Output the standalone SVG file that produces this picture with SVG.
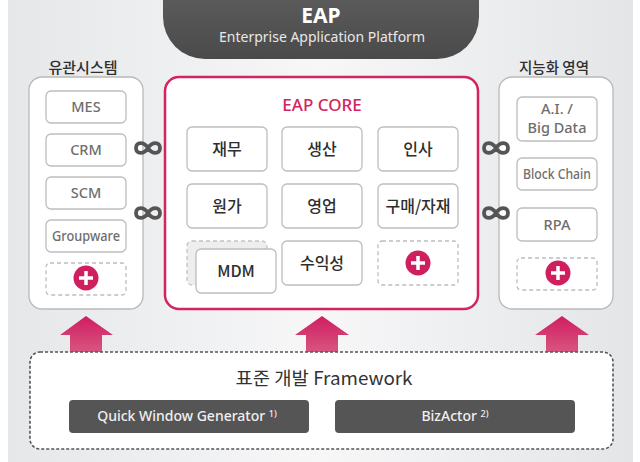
<svg xmlns="http://www.w3.org/2000/svg" width="640" height="462" viewBox="0 0 640 462">
<defs>
<linearGradient id="bg" x1="0" y1="0" x2="1" y2="0">
<stop offset="0" stop-color="#e5e7e9"/>
<stop offset="0.5" stop-color="#f7f7f8"/>
<stop offset="1" stop-color="#e3e5e7"/>
</linearGradient>
<linearGradient id="pill" x1="0" y1="0" x2="0" y2="1">
<stop offset="0" stop-color="#666666"/>
<stop offset="1" stop-color="#4a4a4a"/>
</linearGradient>
<linearGradient id="arr" x1="0" y1="0" x2="0" y2="1">
<stop offset="0" stop-color="#d01d62"/>
<stop offset="1" stop-color="#d8557f"/>
</linearGradient>
<style>
.panel{fill:#ffffff;stroke:#b9b9b9;stroke-width:1.3}
.core{fill:#ffffff;stroke:#d3245f;stroke-width:2.5}
.box{fill:#ffffff;stroke:#bdbdbd;stroke-width:1.3}
.dash{fill:#ffffff;stroke:#bdbdbd;stroke-width:1.3;stroke-dasharray:4 3}
.t{font-family:"Noto Sans","Noto Sans CJK KR",sans-serif;text-anchor:middle}
.side{font-size:14.5px;fill:#6e6e6e;font-weight:500}
.ctext{font-size:16px;fill:#2e2e2e;font-family:"Noto Sans CJK KR","Noto Sans",sans-serif;text-anchor:middle;font-weight:500}
.label{font-size:15px;fill:#2e2e2e;font-family:"Noto Sans CJK KR","Noto Sans",sans-serif;text-anchor:middle;font-weight:500}
.title{font-size:18px;fill:#333333;font-family:"Noto Sans CJK KR","Noto Sans",sans-serif;text-anchor:middle;font-weight:normal}
.inf{fill:none;stroke:#555555;stroke-width:3.8}
.plus{fill:#cf1f5e}
.pl{stroke:#ffffff;stroke-width:3.5;stroke-linecap:butt}
.dark{fill:#555555}
.wt{font-family:"Noto Sans",sans-serif;font-size:14px;fill:#f0f0f0;text-anchor:middle;font-weight:500}
</style>
</defs>
<rect x="0" y="0" width="640" height="462" fill="#ffffff"/>
<rect x="8" y="0" width="625" height="462" fill="url(#bg)"/>

<g id="eap-header">
<rect x="163" y="-45" width="316" height="104" rx="42" fill="url(#pill)"/>
<text class="t" x="321" y="23" font-size="21" font-weight="bold" fill="#ffffff">EAP</text>
<text class="t" x="322" y="42" font-size="14" fill="#e8e8e8" textLength="206" lengthAdjust="spacingAndGlyphs">Enterprise Application Platform</text>
</g>

<g id="related-systems">
<text class="label" x="83" y="73" textLength="69" lengthAdjust="spacingAndGlyphs">유관시스템</text>
<rect class="panel" x="29" y="77" width="114" height="232" rx="13"/>
<rect class="box" x="46" y="91" width="80" height="32" rx="5"/>
<text class="t side" x="86" y="112">MES</text>
<rect class="box" x="46" y="134" width="80" height="32" rx="5"/>
<text class="t side" x="86" y="155">CRM</text>
<rect class="box" x="46" y="177" width="80" height="32" rx="5"/>
<text class="t side" x="86" y="198">SCM</text>
<rect class="box" x="46" y="220" width="80" height="32" rx="5"/>
<text class="t side" x="86" y="241" font-size="13" textLength="68" lengthAdjust="spacingAndGlyphs">Groupware</text>
<rect class="dash" x="46" y="263" width="80" height="32" rx="4"/>
<circle class="plus" cx="86" cy="278" r="12.5"/>
<path class="pl" d="M79,278 H93 M86,271 V285"/>
</g>

<g id="eap-core">
<rect class="core" x="165" y="77" width="313" height="232" rx="14"/>
<text class="t" x="322" y="111" font-size="17" fill="#d3245f" font-weight="500">EAP CORE</text>
<rect class="box" x="187" y="127" width="80" height="44" rx="5"/>
<text class="ctext" x="227" y="155">재무</text>
<rect class="box" x="282" y="127" width="80" height="44" rx="5"/>
<text class="ctext" x="322" y="155">생산</text>
<rect class="box" x="378" y="127" width="80" height="44" rx="5"/>
<text class="ctext" x="418" y="155">인사</text>
<rect class="box" x="187" y="184" width="80" height="44" rx="5"/>
<text class="ctext" x="227" y="212">원가</text>
<rect class="box" x="282" y="184" width="80" height="44" rx="5"/>
<text class="ctext" x="322" y="212">영업</text>
<rect class="box" x="378" y="184" width="80" height="44" rx="5"/>
<text class="ctext" x="418" y="212">구매/자재</text>
<rect x="187" y="241" width="80" height="44" rx="5" fill="#eeeeee" stroke="#c4c4c4" stroke-width="1.3" stroke-dasharray="4 3"/>
<rect class="box" x="196" y="249" width="80" height="44" rx="5"/>
<text class="ctext" x="236" y="277">MDM</text>
<rect class="box" x="282" y="241" width="80" height="44" rx="5"/>
<text class="ctext" x="322" y="269">수익성</text>
<rect class="dash" x="378" y="241" width="80" height="44" rx="4"/>
<circle class="plus" cx="418" cy="263" r="12.5"/>
<path class="pl" d="M411,263 H425 M418,256 V270"/>
</g>

<g id="intelligence">
<text class="label" x="554" y="73" textLength="70" lengthAdjust="spacingAndGlyphs">지능화 영역</text>
<rect class="panel" x="499" y="77" width="114" height="232" rx="13"/>
<rect class="box" x="517" y="97" width="80" height="44" rx="5"/>
<text class="t side" x="557" y="114" font-size="12">A.I. /</text>
<text class="t side" x="557" y="133" font-size="12">Big Data</text>
<rect class="box" x="517" y="158" width="80" height="32" rx="5"/>
<text class="t side" x="557" y="179" font-size="13" textLength="68" lengthAdjust="spacingAndGlyphs">Block Chain</text>
<rect class="box" x="517" y="208" width="80" height="33" rx="5"/>
<text class="t side" x="557" y="230">RPA</text>
<rect class="dash" x="517" y="258" width="80" height="32" rx="4"/>
<circle class="plus" cx="558" cy="273" r="12.5"/>
<path class="pl" d="M551,273 H565 M558,266 V280"/>
</g>

<g id="connectors">
<path class="inf" d="M148,148 C144,141.5 136,141.5 136,148 C136,154.5 144,154.5 148,148 C152,141.5 160,141.5 160,148 C160,154.5 152,154.5 148,148 Z"/>
<path class="inf" d="M148,213 C144,206.5 136,206.5 136,213 C136,219.5 144,219.5 148,213 C152,206.5 160,206.5 160,213 C160,219.5 152,219.5 148,213 Z"/>
<path class="inf" d="M496,148 C492,141.5 484,141.5 484,148 C484,154.5 492,154.5 496,148 C500,141.5 508,141.5 508,148 C508,154.5 500,154.5 496,148 Z"/>
<path class="inf" d="M496,213 C492,206.5 484,206.5 484,213 C484,219.5 492,219.5 496,213 C500,206.5 508,206.5 508,213 C508,219.5 500,219.5 496,213 Z"/>
<polygon fill="url(#arr)" points="86,316 113,335 102,335 102,352 70,352 70,335 60,335"/>
<polygon fill="url(#arr)" points="322,316 349,335 338,335 338,352 306,352 306,335 295,335"/>
<polygon fill="url(#arr)" points="562,316 589,335 578,335 578,352 546,352 546,335 535,335"/>
</g>

<g id="framework">
<rect x="30" y="352" width="583" height="97" rx="10" fill="#ffffff" stroke="#555555" stroke-width="1.6" stroke-dasharray="3 2"/>
<text class="title" x="324" y="385" textLength="177" lengthAdjust="spacingAndGlyphs">표준 개발 Framework</text>
<rect class="dark" x="69" y="400" width="240" height="33" rx="4"/>
<text class="wt" x="187" y="421">Quick Window Generator <tspan font-size="9" dy="-4">1)</tspan></text>
<rect class="dark" x="335" y="400" width="240" height="33" rx="4"/>
<text class="wt" x="455" y="421">BizActor <tspan font-size="9" dy="-4">2)</tspan></text>
</g>
</svg>
